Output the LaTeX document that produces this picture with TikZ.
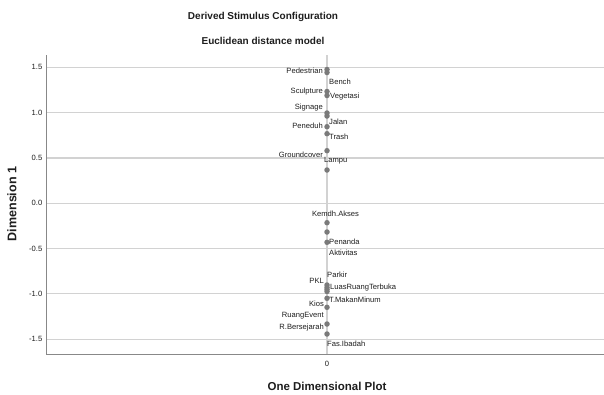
\documentclass[tikz,border=0pt]{standalone}
\usepackage{fontspec}
\setmainfont{Liberation Sans}
\definecolor{gridc}{HTML}{D2D2D2}
\definecolor{axisc}{HTML}{888888}
\definecolor{dotc}{HTML}{7A7A7A}
\definecolor{txtc}{HTML}{1E1E1E}
\tikzset{
  gridline/.style={draw=gridc, line width=1.1pt},
  axisline/.style={draw=axisc, line width=1pt},
  pt/.style={circle, fill=dotc, inner sep=0pt, minimum size=5.5pt},
  lab/.style={inner sep=0pt, text=txtc, font=\fontsize{7.6}{9}\selectfont},
  ticklab/.style={inner sep=0pt, text=txtc, font=\fontsize{7.6}{9}\selectfont, anchor=east},
  ttl/.style={inner sep=0pt, text=txtc, font=\fontsize{10}{12}\selectfont\bfseries},
  axttl/.style={inner sep=0pt, text=txtc, font=\fontsize{11.5}{13}\selectfont\bfseries},
}
\begin{document}
\begin{tikzpicture}[x=1pt,y=-1pt]
\useasboundingbox[fill=white] (0,0) rectangle (604,394);
% titles
\node[ttl] (t1) at (263,17) {Derived Stimulus Configuration};
\node[ttl] (t2) at (263,41) {Euclidean distance model};
% grid lines and tick labels
\foreach \v/\yy/\nm in {1.5/67.4/a,1.0/112.7/b,0.5/158.0/c,0.0/203.3/d,-0.5/248.6/e,-1.0/293.9/f,-1.5/339.2/g}{
  \draw[gridline] (46,\yy) -- (604,\yy);
  \node[ticklab] (tick\nm) at (42.5,\yy) {\v};
}
\draw[gridline] (327,55) -- (327,354);
% axes
\draw[axisline] (46,55) -- (46,354) -- (604,354);
\node[lab] (zero) at (327,364) {0};
\node[axttl] (xt) at (327,386) {One Dimensional Plot};
\node[axttl, font=\fontsize{12.5}{14}\selectfont\bfseries, rotate=90] (yt) at (12,204) {Dimension 1};
% points
\foreach \yy [count=\i] in {69.5,72.5,91.5,95.5,113,116,126.7,133.7,150.7,170,
  222.7,232,242.3,285,287.5,289.5,291.5,298.3,307.3,324,334}{
  \node[pt] (p\i) at (327,\yy) {};
}
% labels
\node[lab, anchor=east] (l1) at (323,71) {Pedestrian};
\node[lab, anchor=west] (l2) at (329,81.7) {Bench};
\node[lab, anchor=east] (l3) at (323,91.7) {Sculpture};
\node[lab, anchor=west] (l4) at (330,97) {Vegetasi};
\node[lab, anchor=east] (l5) at (323,107.7) {Signage};
\node[lab, anchor=west] (l6) at (329,121.7) {Jalan};
\node[lab, anchor=east] (l7) at (323,126) {Peneduh};
\node[lab, anchor=west] (l8) at (329,136.7) {Trash};
\node[lab, anchor=east] (l9) at (323,154.3) {Groundcover};
\node[lab, anchor=west] (l10) at (324,161) {Lampu};
\node[lab] (l11) at (335.5,214) {Kemdh.Akses};
\node[lab, anchor=west] (l12) at (329,241.7) {Penanda};
\node[lab, anchor=west] (l13) at (329,252.7) {Aktivitas};
\node[lab, anchor=west] (l14) at (327,275) {Parkir};
\node[lab, anchor=east] (l15) at (324,280.7) {PKL};
\node[lab, anchor=west] (l16) at (330,287.7) {LuasRuangTerbuka};
\node[lab, anchor=east] (l17) at (324,303.3) {Kios};
\node[lab, anchor=west] (l18) at (329,300) {T.MakanMinum};
\node[lab, anchor=east] (l19) at (324,316) {RuangEvent};
\node[lab, anchor=east] (l20) at (324,327.3) {R.Bersejarah};
\node[lab, anchor=west] (l21) at (327,344) {Fas.Ibadah};
\end{tikzpicture}
\end{document}
